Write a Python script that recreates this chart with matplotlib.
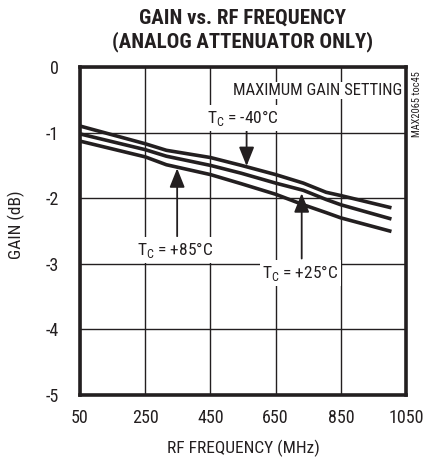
import matplotlib
matplotlib.use('Agg')
import matplotlib.pyplot as plt

plt.rcParams['font.family'] = ['Roboto Condensed', 'DejaVu Sans']

# Data
freq = [50, 250, 315, 450, 545, 650, 735, 805, 850, 1000]
gain_m40 = [-0.90, -1.17, -1.27, -1.38, -1.50, -1.64, -1.77, -1.91, -1.96, -2.14]
gain_25 = [-1.02, -1.26, -1.36, -1.50, -1.62, -1.77, -1.88, -2.02, -2.10, -2.31]
gain_85 = [-1.13, -1.37, -1.49, -1.64, -1.78, -1.94, -2.10, -2.22, -2.30, -2.50]

x_ticks = [50, 250, 450, 650, 850, 1050]
y_ticks = [0, -1, -2, -3, -4, -5]

ink = '#231f20'

fig = plt.figure(figsize=(4.26, 4.57), dpi=100)
ax = fig.add_axes([0.1878, 0.1357, 0.7653, 0.7177])

# Curves
for g in (gain_m40, gain_25, gain_85):
    ax.plot(freq, g, color=ink, lw=2.6, solid_joinstyle='round', zorder=3)

# Axis range and ticks
ax.set_xlim(50, 1050)
ax.set_ylim(-5, 0)
ax.set_xticks(x_ticks)
ax.set_yticks(y_ticks)
ax.set_yticklabels(['0', '-1', '-2', '-3', '-4', '-5'])
ax.tick_params(axis='both', length=0, labelsize=13, labelcolor=ink)
ax.tick_params(axis='x', pad=10)
ax.tick_params(axis='y', pad=15)
ax.grid(True, color=ink, lw=1.0)
for s in ax.spines.values():
    s.set_linewidth(2.6)
    s.set_color(ink)

# Labels
ax.set_xlabel('RF FREQUENCY (MHz)', fontsize=12.5, color=ink)
ax.xaxis.set_label_coords(0.5, -0.135)
ax.set_ylabel('GAIN (dB)', fontsize=12.5, color=ink)
ax.yaxis.set_label_coords(-0.168, 0.52)
fig.text(0.570, 0.949, 'GAIN vs. RF FREQUENCY', ha='center', va='baseline',
         fontsize=15, fontweight='bold', color=ink)
fig.text(0.570, 0.896, '(ANALOG ATTENUATOR ONLY)', ha='center', va='baseline',
         fontsize=15, fontweight='bold', color=ink)
fig.text(0.979, 0.772, 'MAX2065 toc45', rotation=90, ha='center', va='center',
         fontsize=7.5, color=ink)

ax.text(1037, -0.427, 'MAXIMUM GAIN SETTING', ha='right', va='baseline',
        fontsize=12, color=ink,
        bbox=dict(facecolor='white', edgecolor='none', pad=1), zorder=4)

# Annotations
box = dict(facecolor='white', edgecolor='none', pad=2)
arrow = dict(arrowstyle='-|>,head_length=0.4,head_width=0.16', color=ink,
             lw=1.3, mutation_scale=29, shrinkA=0, shrinkB=0)
ax.annotate('', xy=(561, -1.51), xytext=(561, -0.93), arrowprops=arrow, zorder=4)
ax.text(550, -0.854, 'T$_\\mathregular{C}$ = -40°C', ha='center', va='baseline',
        fontsize=12.5, color=ink, bbox=box, zorder=4)

ax.annotate('', xy=(348, -1.545), xytext=(348, -2.58), arrowprops=arrow, zorder=4)
ax.text(341, -2.866, 'T$_\\mathregular{C}$ = +85°C', ha='center', va='baseline',
        fontsize=12.5, color=ink, bbox=box, zorder=4)

ax.annotate('', xy=(730, -1.925), xytext=(730, -2.92), arrowprops=arrow, zorder=4)
ax.text(726, -3.22, 'T$_\\mathregular{C}$ = +25°C', ha='center', va='baseline',
        fontsize=12.5, color=ink, bbox=box, zorder=4)

plt.savefig('out.png', dpi=100)
